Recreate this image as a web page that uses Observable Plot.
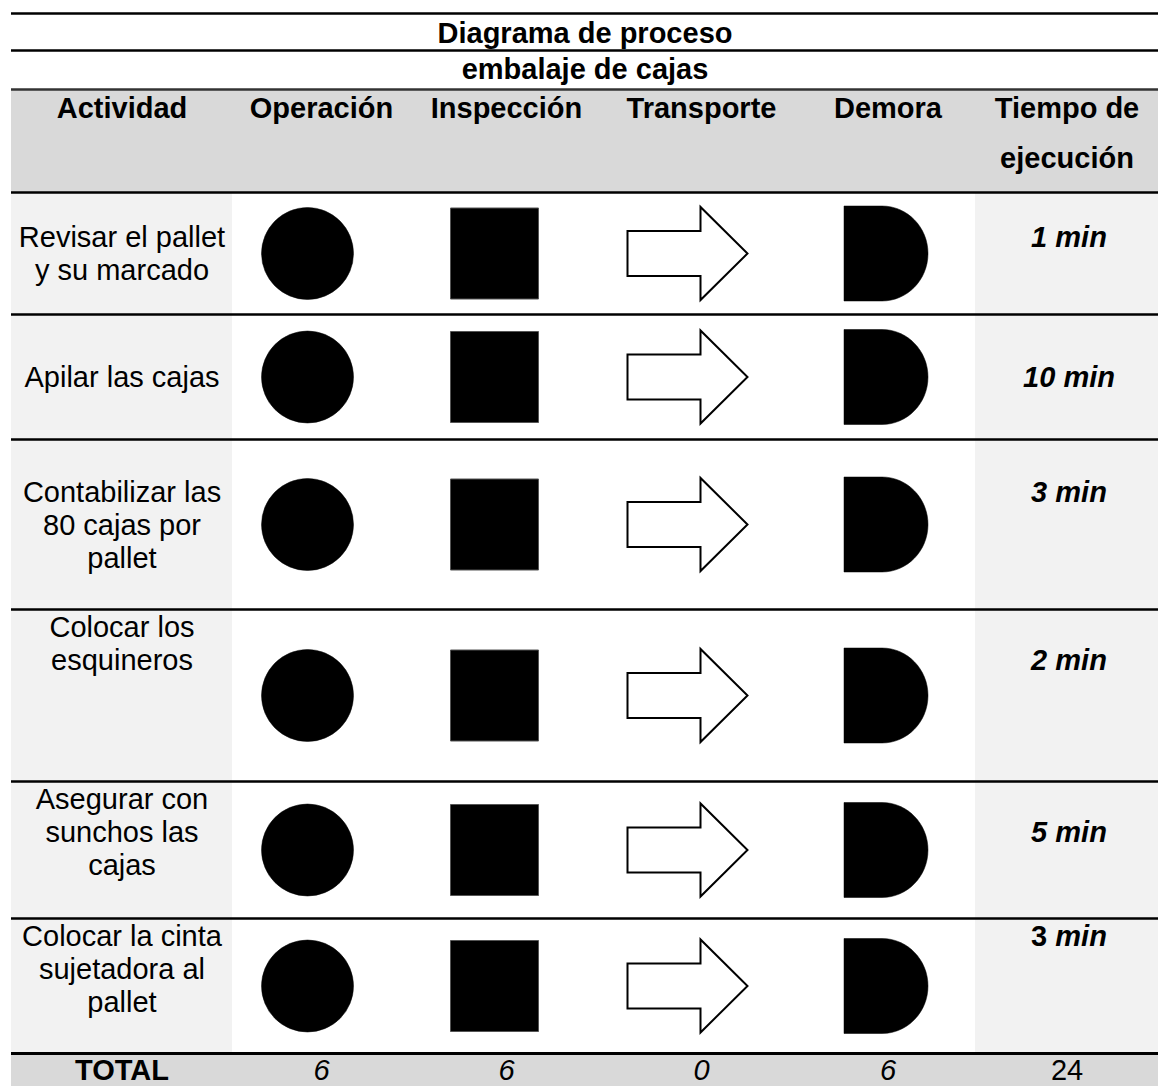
<!DOCTYPE html>
<html>
<head>
<meta charset="utf-8">
<script src="https://cdn.jsdelivr.net/npm/d3@7"></script>
<script src="https://cdn.jsdelivr.net/npm/@observablehq/plot@0.6"></script>
<style>
  html, body { margin: 0; padding: 0; background: #ffffff; }
  #chart svg { display: block; }
</style>
</head>
<body>
<div id="chart"></div>
<script>
// ---------------- DATA ----------------
const title = "Diagrama de proceso";
const subtitle = "embalaje de cajas";
const headers = ["Actividad", "Operación", "Inspección", "Transporte", "Demora", "Tiempo de\nejecución"];
const activities = [
  "Revisar el pallet\ny su marcado",
  "Apilar las cajas",
  "Contabilizar las\n80 cajas por\npallet",
  "Colocar los\nesquineros",
  "Asegurar con\nsunchos las\ncajas",
  "Colocar la cinta\nsujetadora al\npallet"
];
// 1 = symbol marked (filled), 0 = not marked (outline)
const operacion  = [1, 1, 1, 1, 1, 1];
const inspeccion = [1, 1, 1, 1, 1, 1];
const transporte = [0, 0, 0, 0, 0, 0];
const demora     = [1, 1, 1, 1, 1, 1];
const tiempos = [1, 10, 3, 2, 5, 3];
const unidad = "min";
const totalLabel = "TOTAL";
const totales = [6, 6, 0, 6];
const tiempoTotal = 24;

// ---------------- LAYOUT / STYLE ----------------
const W = 1158, H = 1086;
const FS = 29;                 // font size (px)
const LH = 33;                 // line spacing (px)
const FONT = "'Liberation Sans', Arial, Helvetica, sans-serif";
const colEdges = [11, 232, 410, 602, 800, 975, W];
const rowEdges = [192, 314, 439, 609, 781, 918, 1053];
const titleRules = [13, 50];
const headerTop = 89;
const totalBottom = H;
const totalBaseline = 1079;
const textValign = ["center", "center", "center", "top", "top", "top"];
const timeLineIndex = [0, 0, 0, 1, 1, 0];
const numberItalic = [true, true, true, true, true, false];
const GRAY_HEADER = "#d9d9d9", GRAY_COL = "#f2f2f2";

const colCenter = i => (colEdges[i] + colEdges[i + 1]) / 2;

// canvas text measurement
const mctx = document.createElement("canvas").getContext("2d");
function textWidth(str, style) {
  mctx.font = `${style} ${FS}px ${FONT}`;
  return mctx.measureText(str).width;
}

// ---- background bands
const bands = [
  {x1: colEdges[0], x2: W, y1: headerTop, y2: rowEdges[0], fill: GRAY_HEADER},
  {x1: colEdges[0], x2: colEdges[1], y1: rowEdges[0], y2: rowEdges[rowEdges.length - 1], fill: GRAY_COL},
  {x1: colEdges[5], x2: colEdges[6], y1: rowEdges[0], y2: rowEdges[rowEdges.length - 1], fill: GRAY_COL},
  {x1: colEdges[0], x2: W, y1: rowEdges[rowEdges.length - 1], y2: totalBottom, fill: GRAY_HEADER}
];

// ---- activity text lines
const firstBaseline = [];
const activityLines = [];
activities.forEach((a, i) => {
  const parts = a.split("\n");
  const n = parts.length;
  const top = rowEdges[i], bot = rowEdges[i + 1], mid = (top + bot) / 2;
  const first = textValign[i] === "top"
    ? top + 7 + 0.71 * FS
    : mid - (n - 1) * LH / 2 + 0.35 * FS;
  firstBaseline[i] = first;
  parts.forEach((t, k) => activityLines.push({x: colCenter(0), y: first + k * LH, text: t}));
});

// ---- time labels (number + unit)
const timeNums = [], timeUnits = [];
tiempos.forEach((t, i) => {
  const y = firstBaseline[i] + timeLineIndex[i] * LH;
  const numStyle = numberItalic[i] ? "italic bold" : "bold";
  const numW = textWidth(String(t), numStyle);
  const spW = textWidth(" ", "italic bold");
  const unitW = textWidth(unidad, "italic bold");
  const total = numW + spW + unitW;
  const xs = colCenter(5) + 2 - total / 2;
  timeNums.push({x: xs + numW, y, text: String(t), italic: numberItalic[i]});
  timeUnits.push({x: xs + numW + spW, y, text: unidad});
});

// ---- header lines
const headerLines = [];
headers.forEach((h, j) => {
  h.split("\n").forEach((t, k) => headerLines.push({x: colCenter(j), y: 117 + k * 50, text: t}));
});

// ---- shapes
const symSquare = {draw(c) { c.rect(-44, -45.5, 88, 91); }};
const symArrow = {draw(c) {
  c.moveTo(-60, -22.5); c.lineTo(13, -22.5); c.lineTo(13, -46.5);
  c.lineTo(60, 0); c.lineTo(13, 46.5); c.lineTo(13, 22.5);
  c.lineTo(-60, 22.5); c.closePath();
}};
const symDelay = {draw(c) {
  const k = 0.5523, cx = -4, rx = 46, ry = 47.5;
  c.moveTo(-42, -ry);
  c.lineTo(cx, -ry);
  c.bezierCurveTo(cx + k * rx, -ry, cx + rx, -k * ry, cx + rx, 0);
  c.bezierCurveTo(cx + rx, k * ry, cx + k * rx, ry, cx, ry);
  c.lineTo(-42, ry);
  c.closePath();
}};
const rowMid = i => (rowEdges[i] + rowEdges[i + 1]) / 2;
const shapeRecs = (arr, col) => arr.map((m, i) => ({x: colCenter(col), y: rowMid(i), fill: m ? "black" : "white"}));

// ---- totals
const totalRecs = totales.map((v, j) => ({x: colCenter(j + 1), y: totalBaseline, text: String(v)}));

const textBase = {x: "x", y: "y", text: "text", lineAnchor: "bottom", fontSize: FS, fontFamily: FONT, fill: "black"};

const chart = Plot.plot({
  width: W,
  height: H,
  margin: 0,
  x: {type: "linear", domain: [0, W], range: [0, W], axis: null},
  y: {type: "linear", domain: [0, H], range: [0, H], axis: null},
  color: {type: "identity"},
  style: {fontFamily: FONT, background: "white", overflow: "visible"},
  marks: [
    Plot.rect(bands, {x1: "x1", x2: "x2", y1: "y1", y2: "y2", fill: "fill"}),
    Plot.ruleY(titleRules, {y: d => d, x1: colEdges[0], x2: W, stroke: "black", strokeWidth: 2.5}),
    Plot.ruleY([headerTop], {y: d => d, x1: colEdges[0], x2: W, stroke: "#333333", strokeWidth: 2.5}),
    Plot.ruleY(rowEdges.slice(0, -1), {y: d => d, x1: colEdges[0], x2: W, stroke: "black", strokeWidth: 2.5}),
    Plot.ruleY(rowEdges.slice(-1), {y: d => d, x1: colEdges[0], x2: W, stroke: "black", strokeWidth: 3}),
    Plot.dot(shapeRecs(operacion, 1), {x: "x", y: "y", r: 46, symbol: "circle", fill: "fill", stroke: "black", strokeWidth: 0.5, dx: -14}),
    Plot.dot(shapeRecs(inspeccion, 2), {x: "x", y: "y", symbol: symSquare, fill: "fill", stroke: "#555555", strokeWidth: 1, dx: -12}),
    Plot.dot(shapeRecs(transporte, 3), {x: "x", y: "y", symbol: symArrow, fill: "fill", stroke: "black", strokeWidth: 2, strokeLinejoin: "miter", dx: -14}),
    Plot.dot(shapeRecs(demora, 4), {x: "x", y: "y", symbol: symDelay, fill: "fill", stroke: "black", strokeWidth: 0.5, dx: -2}),
    Plot.text([{x: (colEdges[0] + W) / 2, y: 42, text: title}, {x: (colEdges[0] + W) / 2, y: 78, text: subtitle}], {...textBase, fontWeight: "bold"}),
    Plot.text(headerLines, {...textBase, fontWeight: "bold"}),
    Plot.text(activityLines, {...textBase}),
    Plot.text(timeNums.filter(d => d.italic), {...textBase, textAnchor: "end", fontWeight: "bold", fontStyle: "italic"}),
    Plot.text(timeNums.filter(d => !d.italic), {...textBase, textAnchor: "end", fontWeight: "bold"}),
    Plot.text(timeUnits, {...textBase, textAnchor: "start", fontWeight: "bold", fontStyle: "italic"}),
    Plot.text([{x: colCenter(0), y: totalBaseline, text: totalLabel}], {...textBase, fontWeight: "bold"}),
    Plot.text(totalRecs, {...textBase, fontStyle: "italic"}),
    Plot.text([{x: colCenter(5), y: totalBaseline, text: String(tiempoTotal)}], {...textBase})
  ]
});
document.getElementById("chart").appendChild(chart);
</script>
</body>
</html>
